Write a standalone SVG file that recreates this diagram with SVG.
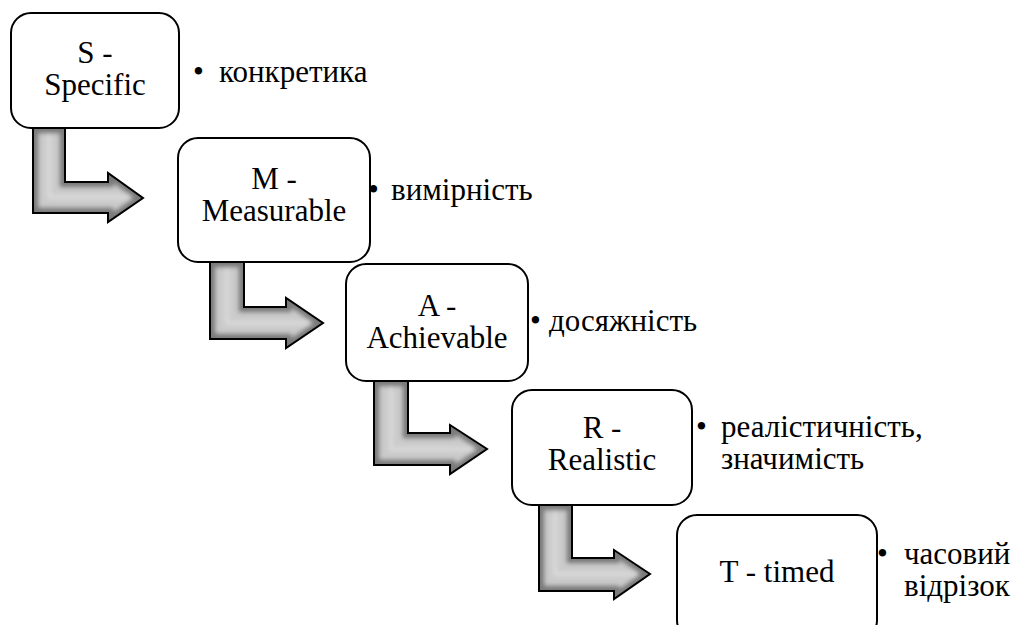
<svg xmlns="http://www.w3.org/2000/svg" xmlns:xlink="http://www.w3.org/1999/xlink" width="1017" height="625" viewBox="0 0 1017 625">
<defs>
<style>
.box{fill:#fff;stroke:#000;stroke-width:2}
text{font-family:'Liberation Serif','DejaVu Serif',serif;font-size:31px;fill:#000}
.c{text-anchor:middle}
.ash{fill:#cbcbcb;stroke:#7a7a7a;stroke-width:11;stroke-linejoin:miter;filter:url(#soft)}
.ahl{fill:none;stroke:#dedede;stroke-width:3;filter:url(#soft)}
.as{fill:none;stroke:#000;stroke-width:2;stroke-linejoin:miter}
</style>
<filter id="soft" x="-20%" y="-20%" width="140%" height="140%">
<feGaussianBlur stdDeviation="2.2"/>
</filter>
<path id="a1" d="M33,128 L65,128 L65,182 L108,182 L108,173 L143,198 L108,222 L108,213 L33,213 Z"/>
<path id="a2" d="M210,262 L244,262 L244,307 L286,307 L286,298 L323,323 L286,348 L286,339 L210,339 Z"/>
<path id="a3" d="M374,381 L408,381 L408,433 L450,433 L450,425 L487,449 L450,474 L450,465 L374,465 Z"/>
<path id="a4" d="M539,505 L572,505 L572,558 L614,558 L614,550 L650,574 L614,599 L614,591 L539,591 Z"/>
<clipPath id="c1"><use xlink:href="#a1"/></clipPath>
<clipPath id="c2"><use xlink:href="#a2"/></clipPath>
<clipPath id="c3"><use xlink:href="#a3"/></clipPath>
<clipPath id="c4"><use xlink:href="#a4"/></clipPath>
</defs>
<rect width="1017" height="625" fill="#fff"/>
<g id="connectors">
<g clip-path="url(#c1)"><use xlink:href="#a1" class="ash"/><path class="ahl" d="M49,135 L49,197 L128,197"/></g>
<use xlink:href="#a1" class="as"/>
<g clip-path="url(#c2)"><use xlink:href="#a2" class="ash"/><path class="ahl" d="M227,269 L227,323 L308,323"/></g>
<use xlink:href="#a2" class="as"/>
<g clip-path="url(#c3)"><use xlink:href="#a3" class="ash"/><path class="ahl" d="M391,388 L391,449 L472,449"/></g>
<use xlink:href="#a3" class="as"/>
<g clip-path="url(#c4)"><use xlink:href="#a4" class="ash"/><path class="ahl" d="M555,512 L555,574 L635,574"/></g>
<use xlink:href="#a4" class="as"/>
</g>
<g id="node-s">
<rect class="box" x="11" y="13" width="168" height="115" rx="20"/>
<text class="c" x="95" y="63">S -</text>
<text class="c" x="95" y="95">Specific</text>
<text x="193" y="82">•</text>
<text x="219" y="82">конкретика</text>
</g>
<g id="node-m">
<rect class="box" x="178" y="138" width="192" height="124" rx="20"/>
<text class="c" x="274" y="189">M -</text>
<text class="c" x="274" y="221">Measurable</text>
<text x="368" y="200">•</text>
<text x="391" y="200">вимірність</text>
</g>
<g id="node-a">
<rect class="box" x="346" y="264" width="182" height="117" rx="20"/>
<text class="c" x="437" y="316">A -</text>
<text class="c" x="437" y="348">Achievable</text>
<text x="530" y="331">•</text>
<text x="549" y="331">досяжність</text>
</g>
<g id="node-r">
<rect class="box" x="512" y="390" width="180" height="115" rx="20"/>
<text class="c" x="602" y="438">R -</text>
<text class="c" x="602" y="470">Realistic</text>
<text x="696" y="437">•</text>
<text x="721" y="437">реалістичність,</text>
<text x="721" y="469">значимість</text>
</g>
<g id="node-t">
<rect class="box" x="677" y="515" width="200" height="125" rx="20"/>
<text class="c" x="777" y="582">T - timed</text>
<text x="877" y="564">•</text>
<text x="904" y="564">часовий</text>
<text x="904" y="596">відрізок</text>
</g>
</svg>
